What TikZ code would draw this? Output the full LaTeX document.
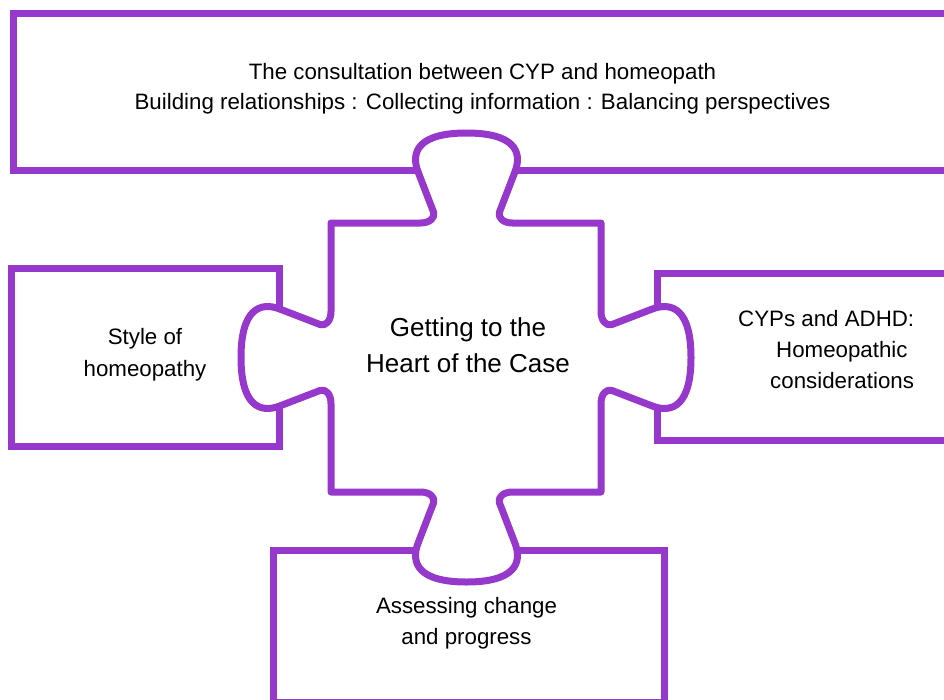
\documentclass[tikz,border=0pt]{standalone}
\usepackage{fontspec}
\setmainfont{Liberation Sans}
\definecolor{piecepurple}{RGB}{150,56,204}
\tikzset{
  frame/.style={draw=piecepurple, line width=7pt, line join=miter},
  piece/.style={draw=piecepurple, line width=7pt, fill=white, line join=round},
  boxtext/.style={font=\fontsize{22.3}{31}\selectfont, align=center, inner sep=0pt},
  hearttext/.style={font=\fontsize{26}{36}\selectfont, align=center, inner sep=0pt}
}
\begin{document}
\begin{tikzpicture}[x=1pt,y=-1pt]
\useasboundingbox (0,0) rectangle (944,699);
\clip (0,0) rectangle (944,699);
\fill[white] (0,0) rectangle (944,699);
% boxes
\draw[frame] (13.5,13.5) rectangle (970,170);
\draw[frame] (11.5,268.5) rectangle (279,446);
\draw[frame] (970,273.5) rectangle (657.5,440.5);
\draw[frame] (273,550) rectangle (664.5,702);
% puzzle piece
\draw[piece] (331,223) -- (420.5,223)
  .. controls (429.5,223) and (435.5,218) .. (433.5,212)
  -- (418.5,173)
  .. controls (409.5,151) and (419.5,133) .. (466.5,133)
  .. controls (513.5,133) and (523.5,151) .. (514.5,173)
  -- (499.5,212)
  .. controls (497.5,218) and (503.5,223) .. (512.5,223)
  -- (601,223) -- (601,311.5)
  .. controls (601,320.5) and (606,326.5) .. (612,324.5)
  -- (651,309.5)
  .. controls (673,300.5) and (691,310.5) .. (691,357.5)
  .. controls (691,404.5) and (673,414.5) .. (651,405.5)
  -- (612,390.5)
  .. controls (606,388.5) and (601,394.5) .. (601,403.5)
  -- (601,492) -- (512.5,492)
  .. controls (503.5,492) and (497.5,497) .. (499.5,503)
  -- (514.5,542)
  .. controls (523.5,564) and (513.5,582) .. (466.5,582)
  .. controls (419.5,582) and (409.5,564) .. (418.5,542)
  -- (433.5,503)
  .. controls (435.5,497) and (429.5,492) .. (420.5,492)
  -- (331,492) -- (331,403.5)
  .. controls (331,394.5) and (326,388.5) .. (320,390.5)
  -- (281,405.5)
  .. controls (259,414.5) and (241,404.5) .. (241,357.5)
  .. controls (241,310.5) and (259,300.5) .. (281,309.5)
  -- (320,324.5)
  .. controls (326,326.5) and (331,320.5) .. (331,311.5)
  -- cycle;
% texts
\node[boxtext, font=\fontsize{22.3}{30.5}\selectfont] (consult) at (482.5,88.5) {The consultation between CYP and homeopath\\Building relationships : Collecting information : Balancing perspectives};
\node[boxtext, font=\fontsize{22.3}{32}\selectfont] (style) at (145,354.5) {Style of\\homeopathy};
\node[boxtext, align=left, anchor=west] (adhd) at (738,349.5) {CYPs and ADHD:\\\hspace*{38pt}Homeopathic\\\hspace*{32pt}considerations};
\node[boxtext] (assess) at (466.5,623) {Assessing change\\and progress};
\node[hearttext] (heart) at (468,345) {Getting to the\\Heart of the Case};
\end{tikzpicture}
\end{document}
